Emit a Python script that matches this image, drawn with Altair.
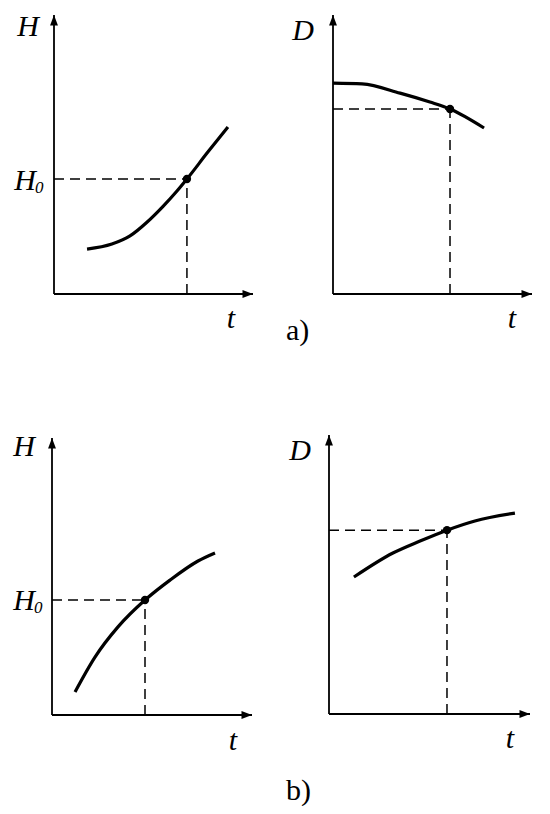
import altair as alt
import pandas as pd

# ---- data (axis length = 10 units in every panel) ----
# a) left : H(t)
a1_t = [1.66, 2.91, 3.82, 4.67, 5.48, 6.18, 6.68, 7.69, 8.74]
a1_v = [1.61, 1.79, 2.08, 2.57, 3.14, 3.69, 4.12, 5.05, 5.99]
a1_dot = [6.68, 4.12]
# a) right : D(t)
a2_t = [0.0, 1.46, 3.37, 4.87, 5.88, 7.59]
a2_v = [7.56, 7.53, 7.20, 6.88, 6.63, 5.95]
a2_dot = [5.88, 6.63]
# b) left : H(t)
b1_t = [1.15, 2.15, 3.30, 4.65, 5.90, 7.30, 8.15]
b1_v = [0.83, 2.09, 3.18, 4.15, 4.87, 5.56, 5.85]
b1_dot = [4.65, 4.15]
# b) right : D(t)
b2_t = [1.24, 3.18, 4.53, 5.87, 7.26, 9.25]
b2_v = [4.91, 5.77, 6.20, 6.59, 6.92, 7.20]
b2_dot = [5.87, 6.59]

AXIS_LEN = 10
W, H = 267, 399
FONT = "Liberation Serif"

UP = "M0,0 L0.75,2 L-0.75,2 Z"
RIGHT = "M0,0 L-2,-0.75 L-2,0.75 Z"


def panel(t, v, dot, ylab, origin, ppu, ylab_off, t_off, h0=None, caption=None):
    ox, oy = origin
    px, py = ppu
    xs = alt.Scale(domain=[-ox / px, (W - ox) / px], nice=False, zero=False)
    ys = alt.Scale(domain=[(oy - H) / py, oy / py], nice=False, zero=False)

    def X(f):
        return alt.X(f, type="quantitative", scale=xs, axis=None)

    def Y(f):
        return alt.Y(f, type="quantitative", scale=ys, axis=None)

    dt, dv = dot
    axes_df = pd.DataFrame({"x1": [0, 0], "y1": [0, 0],
                            "x2": [AXIS_LEN, 0], "y2": [0, AXIS_LEN]})
    dash_df = pd.DataFrame({"x1": [0, dt], "y1": [dv, 0],
                            "x2": [dt, dt], "y2": [dv, dv]})
    curve_df = pd.DataFrame({"t": t, "v": v})
    dot_df = pd.DataFrame({"t": [dt], "v": [dv]})

    layers = []
    layers.append(alt.Chart(axes_df).mark_rule(color="black", strokeWidth=1.8).encode(
        x=X("x1"), y=Y("y1"), x2="x2:Q", y2="y2:Q"))
    layers.append(alt.Chart(dash_df).mark_rule(color="black", strokeWidth=1.5,
                                               strokeDash=[10, 6]).encode(
        x=X("x1"), y=Y("y1"), x2="x2:Q", y2="y2:Q"))
    layers.append(alt.Chart(curve_df).mark_line(color="black", strokeWidth=3.2,
                                                interpolate="monotone").encode(
        x=X("t"), y=Y("v")))
    layers.append(alt.Chart(dot_df).mark_circle(color="black", size=70, opacity=1).encode(
        x=X("t"), y=Y("v")))
    # arrow heads
    layers.append(alt.Chart(pd.DataFrame({"x": [0], "y": [AXIS_LEN]})).mark_point(
        shape=UP, size=110, filled=True, color="black", opacity=1, strokeWidth=0).encode(
        x=X("x"), y=Y("y")))
    layers.append(alt.Chart(pd.DataFrame({"x": [AXIS_LEN], "y": [0]})).mark_point(
        shape=RIGHT, size=110, filled=True, color="black", opacity=1, strokeWidth=0).encode(
        x=X("x"), y=Y("y")))
    # axis names
    layers.append(alt.Chart(pd.DataFrame({"x": [0], "y": [AXIS_LEN]})).mark_text(
        text=ylab, font=FONT, fontSize=30, fontStyle="italic", color="black",
        align="center", baseline="alphabetic", dx=ylab_off[0], dy=ylab_off[1]).encode(
        x=X("x"), y=Y("y")))
    layers.append(alt.Chart(pd.DataFrame({"x": [AXIS_LEN], "y": [0]})).mark_text(
        text="t", font=FONT, fontSize=30, fontStyle="italic", color="black",
        align="center", baseline="alphabetic", dx=t_off[0], dy=t_off[1]).encode(
        x=X("x"), y=Y("y")))
    if h0 is not None:
        hdf = pd.DataFrame({"x": [0], "y": [dv]})
        layers.append(alt.Chart(hdf).mark_text(
            text="H", font=FONT, fontSize=30, fontStyle="italic", color="black",
            align="right", baseline="alphabetic", dx=h0[0], dy=h0[1]).encode(
            x=X("x"), y=Y("y")))
        layers.append(alt.Chart(hdf).mark_text(
            text="0", font=FONT, fontSize=17, fontStyle="italic", color="black",
            align="left", baseline="alphabetic", dx=h0[0] - 1, dy=h0[1] + 3).encode(
            x=X("x"), y=Y("y")))
    if caption is not None:
        layers.append(alt.Chart(pd.DataFrame({"c": [caption[0]]})).mark_text(
            font=FONT, fontSize=30, color="black", align="left",
            baseline="alphabetic").encode(
            text="c:N", x=alt.value(caption[1]), y=alt.value(caption[2])))

    return alt.layer(*layers).properties(width=W, height=H)


p1 = panel(a1_t, a1_v, a1_dot, "H", (46, 286), (19.9, 27.9), (-26, 21), (-22, 34),
           h0=(-18, 11))
p2 = panel(a2_t, a2_v, a2_dot, "D", (58, 286), (19.9, 27.9), (-30, 25), (-20, 34),
           caption=("a)", 11, 332))
p3 = panel(b1_t, b1_v, b1_dot, "H", (44, 308), (20.0, 27.7), (-28, 18), (-19, 35),
           h0=(-17, 10))
p4 = panel(b2_t, b2_v, b2_dot, "D", (54, 307), (20.1, 27.9), (-29, 25), (-20, 34),
           caption=("b)", 11, 393))

chart = alt.vconcat(
    alt.hconcat(p1, p2, spacing=0),
    alt.hconcat(p3, p4, spacing=0),
    spacing=0,
).properties(padding=0, background="white").configure_view(stroke=None)

chart.save("out.html", embed_options={"renderer": "svg", "actions": False})
